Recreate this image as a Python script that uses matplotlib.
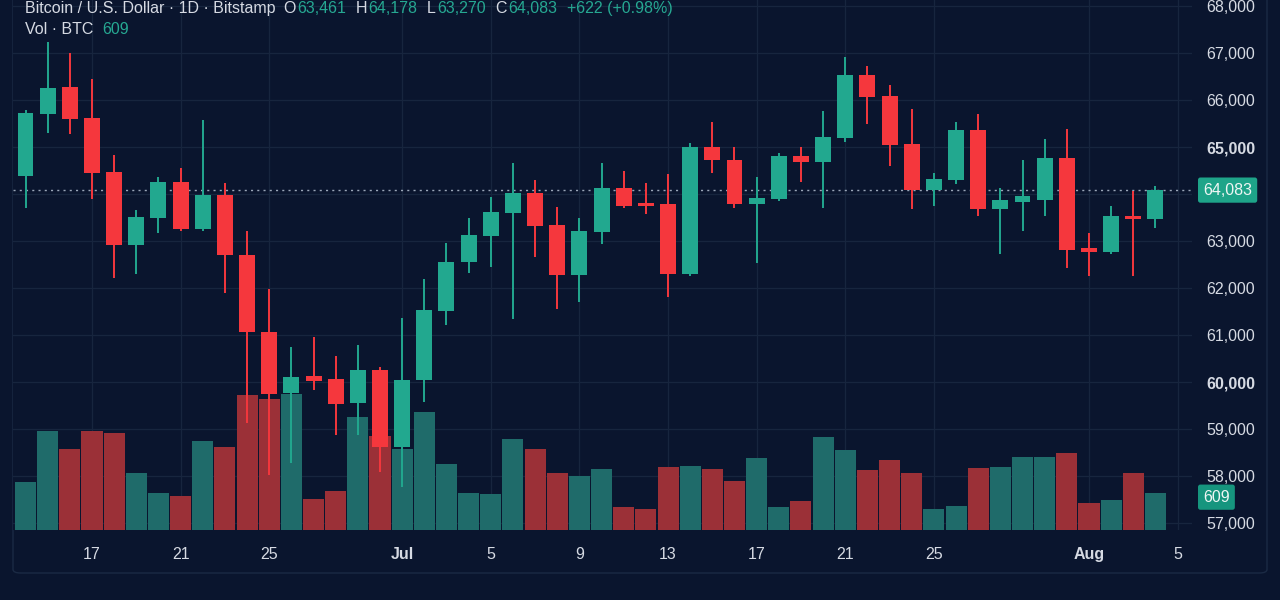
import matplotlib
matplotlib.use("Agg")
import matplotlib.pyplot as plt
from matplotlib.patches import FancyBboxPatch
from matplotlib.transforms import blended_transform_factory
import numpy as np

# ---------------- data ----------------
opens = [64380, 65700, 66280, 65620, 64470, 62910, 63490, 64260, 63260, 63980,
         62700, 61060, 59760, 60130, 60060, 59550, 60250, 58620, 60040, 61510,
         62550, 63110, 63600, 64020, 63340, 62280, 63190, 64130, 63810, 63790,
         62300, 65000, 64720, 63790, 63890, 64810, 64680, 65190, 66530, 66090,
         65060, 64090, 64300, 65360, 63680, 63830, 63870, 64770, 62850, 62770,
         63530, 63461]
highs = [65790, 67230, 67000, 66450, 64830, 63660, 64360, 64550, 65570, 64230,
         63210, 61980, 60740, 60960, 60550, 60790, 60320, 61360, 62190, 62960,
         63490, 63940, 64660, 64300, 63720, 63490, 64660, 64490, 64230, 64430,
         65090, 65530, 65000, 64360, 64870, 65000, 65770, 66920, 66720, 66320,
         65810, 64450, 65530, 65700, 64130, 64720, 65170, 65380, 63170, 63740,
         64060, 64178]
lows = [63700, 65300, 65280, 63890, 62210, 62300, 63170, 63210, 63210, 61890,
        59130, 58020, 58280, 59830, 58870, 58870, 58080, 57760, 59570, 61210,
        62320, 62450, 61340, 62660, 61550, 61700, 62940, 63700, 63570, 61810,
        62260, 64450, 63700, 62530, 63850, 64260, 63700, 65110, 65490, 64600,
        63680, 63740, 64210, 63530, 62720, 63210, 63530, 62430, 62260, 62720,
        62260, 63270]
closes = [65720, 66250, 65600, 64450, 62910, 63510, 64260, 63260, 63980, 62700,
          61060, 59740, 60110, 60020, 59530, 60250, 58620, 60040, 61530, 62550,
          63130, 63620, 64020, 63320, 62280, 63210, 64130, 63740, 63740, 62300,
          65000, 64720, 63790, 63910, 64810, 64680, 65210, 66530, 66060, 65040,
          64090, 64320, 65360, 63680, 63870, 63960, 64770, 62810, 62770, 63530,
          63470, 64083]
volumes = [790, 1630, 1333, 1630, 1597, 938, 609, 560, 1465, 1366,
           2222, 2156, 2239, 510, 642, 1860, 1547, 1333, 1942, 1086,
           609, 593, 1498, 1333, 938, 889, 1004, 379, 346, 1037,
           1053, 1004, 807, 1185, 379, 477, 1531, 1317, 988, 1152,
           938, 346, 395, 1021, 1037, 1202, 1202, 1267, 444, 494,
           938, 609]

date_tick_pos = [3, 7, 11, 17, 21, 25, 29, 33, 37, 41, 48, 52]
date_tick_labels = ["17", "21", "25", "Jul", "5", "9", "13", "17", "21", "25", "Aug", "5"]
price_ticks = [57000, 58000, 59000, 60000, 61000, 62000, 63000, 64000,
               65000, 66000, 67000, 68000]
price_tick_labels = ["57,000", "58,000", "59,000", "60,000", "61,000", "62,000",
                     "63,000", "", "65,000", "66,000", "67,000", "68,000"]

symbol_title = "Bitcoin / U.S. Dollar · 1D · Bitstamp"
ohlc_keys = ["O", "H", "L", "C"]
ohlc_vals = ["63,461", "64,178", "63,270", "64,083"]
change_text = "+622 (+0.98%)"
last_price = 64083
last_price_label = "64,083"
last_volume = 609

# ---------------- style ----------------
BG = "#0a152e"
GRID = "#17253e"
TXT = "#d6dae3"
UP = "#22a88f"
DN = "#f5373d"
VUP = "#1f6b6a"
VDN = "#9b3037"
TEAL_TXT = "#26a892"
FONT = "Liberation Sans"

plt.rcParams["font.family"] = [FONT, "DejaVu Sans"]

W, H = 1280, 600
fig = plt.figure(figsize=(W / 100, H / 100), dpi=100, facecolor=BG)

ax_left, ax_right, ax_bot, ax_top = 13, 1192, 530, 0
ax_vol = fig.add_axes([ax_left / W, 1 - ax_bot / H, (ax_right - ax_left) / W, (ax_bot - ax_top) / H])
ax_vol.set_facecolor(BG)
ax_p = ax_vol.twinx()
ax_p.patch.set_visible(False)

n = len(opens)
x = np.arange(n)
opens_a = np.array(opens, float)
closes_a = np.array(closes, float)
up = closes_a >= opens_a

xlim = (-0.565, 52.65)
ax_vol.set_xlim(*xlim)
ax_p.set_xlim(*xlim)
ax_p.set_ylim(56851, 68128)
ax_vol.set_ylim(0, 8724)

# grid lines (drawn behind volume)
trans_hp = blended_transform_factory(ax_vol.transAxes, ax_p.transData)
for pt in price_ticks:
    ax_vol.plot([0, 1], [pt, pt], transform=trans_hp, color=GRID, lw=0.9, zorder=0)
for tp in date_tick_pos:
    ax_vol.axvline(tp, color=GRID, lw=0.9, zorder=0)

# volume bars
ax_vol.bar(x, volumes, width=0.95, color=[VUP if u else VDN for u in up],
           zorder=1, linewidth=0)

# candles
colors = [UP if u else DN for u in up]
ax_p.vlines(x, lows, highs, colors=colors, linewidth=1.4, zorder=3)
body_h = closes_a - opens_a
body_h = np.where(np.abs(body_h) < 40, np.sign(body_h + 1e-9) * 40, body_h)
ax_p.bar(x, body_h, bottom=opens_a, width=0.72, color=colors, linewidth=0, zorder=4)

# last price dotted line
ax_p.axhline(last_price, color="#9aa6b8", lw=1.0, ls=(0, (1.5, 3)), zorder=2)

# axes styling
for a in (ax_vol, ax_p):
    for s in a.spines.values():
        s.set_visible(False)
ax_vol.set_yticks([])
ax_vol.set_xticks(date_tick_pos)
ax_vol.set_xticklabels(date_tick_labels)
ax_vol.tick_params(axis="x", length=0, pad=12, labelsize=11.5, colors=TXT)
for lbl in ax_vol.get_xticklabels():
    if lbl.get_text() in ("Jul", "Aug"):
        lbl.set_fontweight("bold")

ax_p.set_yticks(price_ticks)
ax_p.set_yticklabels(price_tick_labels)
ax_p.tick_params(axis="y", length=0, pad=10, labelsize=11.5, colors=TXT)
for lbl in ax_p.get_yticklabels():
    if lbl.get_text() in ("60,000", "65,000"):
        lbl.set_fontweight("bold")

# price tag
ax_p.annotate(last_price_label, xy=(1, last_price), xycoords=("axes fraction", "data"),
              xytext=(8, 0), textcoords="offset points", ha="left", va="center",
              fontsize=11.5, color="#eef6f4",
              bbox=dict(boxstyle="round,pad=0.32,rounding_size=0.15", fc="#1ea489", ec="none"),
              zorder=10, annotation_clip=False)
# volume tag
ax_vol.annotate(str(last_volume), xy=(1, last_volume), xycoords=("axes fraction", "data"),
                xytext=(8, -3), textcoords="offset points", ha="left", va="center",
                fontsize=11.5, color="#eef6f4",
                bbox=dict(boxstyle="round,pad=0.32,rounding_size=0.15", fc="#16957e", ec="none"),
                zorder=10, annotation_clip=False)

# frame
frame = FancyBboxPatch((13 / W, 1 - 573 / H), (1267 - 13) / W, 573 / H + 0.05,
                       boxstyle="round,pad=0,rounding_size=0.006",
                       transform=fig.transFigure, fc="none", ec="#1b2a44", lw=1.0,
                       zorder=-1)
fig.add_artist(frame)

# header (chained text pieces)
fig.canvas.draw()
renderer = fig.canvas.get_renderer()


def put(xpx, ypx, s, color, weight="normal"):
    t = fig.text(xpx / W, 1 - ypx / H, s, color=color, fontsize=11.5,
                 fontweight=weight, ha="left", va="baseline")
    bb = t.get_window_extent(renderer=renderer)
    return bb.x1


HEAD_Y = 13
xp = put(25, HEAD_Y, symbol_title, TXT)
xp += 8
for k, v in zip(ohlc_keys, ohlc_vals):
    xp = put(xp, HEAD_Y, k, TXT)
    xp = put(xp + 1, HEAD_Y, v, TEAL_TXT)
    xp += 10
put(xp, HEAD_Y, change_text, TEAL_TXT)

xv = put(25, 34, "Vol · BTC", TXT)
put(xv + 9, 34, str(last_volume), TEAL_TXT)

fig.savefig("out.png", dpi=100, facecolor=BG)
